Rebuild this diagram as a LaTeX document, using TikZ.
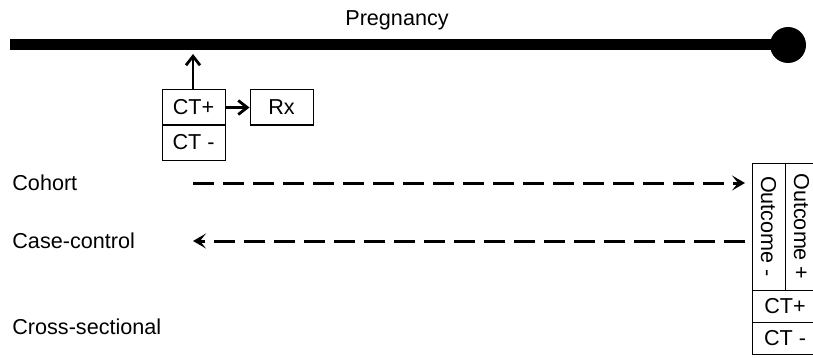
\documentclass[tikz,border=0pt]{standalone}
\usepackage{fontspec}
\setmainfont{Liberation Sans}
\usetikzlibrary{arrows.meta}
\begin{document}
\begin{tikzpicture}[x=0.5pt, y=-0.5pt, font=\fontsize{10.8}{12}\selectfont]
\tikzstyle{box}=[draw, line width=0.5pt, inner sep=0pt, minimum width=31.5pt, minimum height=17.5pt]
\tikzstyle{lbl}=[anchor=west, inner sep=0pt]
\tikzstyle{arr}=[line width=1.4pt, -{Straight Barb[length=4.5pt, width=7pt]}]
\tikzstyle{darr}=[line width=1.5pt, dash pattern=on 10.5pt off 4.5pt, -{Stealth[length=6.5pt, width=7.5pt, inset=3pt]}]
\useasboundingbox (0,0) rectangle (813,358);
\clip (0,0) rectangle (813,358);
% timeline
\coordinate (TL) at (10, 45);
\coordinate (TR) at (788, 45);
\draw [line width=5.5pt] (TL) -- (TR);
\fill (TR) circle (9pt);
\node (PR) at (397, 20) {Pregnancy};
\coordinate (TA) at (193, 54);
% test boxes
\node [box] (CTP) at (193.5, 107.5) {CT+};
\node [box] (CTM) at (193.5, 142.5) {CT -};
\node [box] (RX) at (281.5, 107.5) {Rx};
\draw [arr] (CTP.north -| TA) -- (TA);
\draw [arr] (CTP) -- (RX);
% designs
\node [lbl] (CO) at (12, 183) {Cohort};
\node [lbl] (CC) at (12, 241) {Case-control};
\node [lbl] (CS) at (12, 327) {Cross-sectional};
\node [box, rotate=-90, minimum width=63.5pt, minimum height=16.5pt] (OM) at (768.5, 226.5) {Outcome -};
\node [box, rotate=-90, minimum width=63.5pt, minimum height=16.5pt] (OP) at (801.5, 226.5) {Outcome +};
\node [box, minimum width=33pt, minimum height=16pt] (RCP) at (785, 306) {CT+};
\node [box, minimum width=33pt, minimum height=16pt] (RCM) at (785, 338) {CT -};
\coordinate (C1) at (193, 183);
\coordinate (C2) at (745, 183);
\coordinate (K1) at (745, 241);
\coordinate (K2) at (193, 241);
\draw [darr] (C1) -- (C2);
\draw [darr] (K1) -- (K2);
\end{tikzpicture}
\end{document}
